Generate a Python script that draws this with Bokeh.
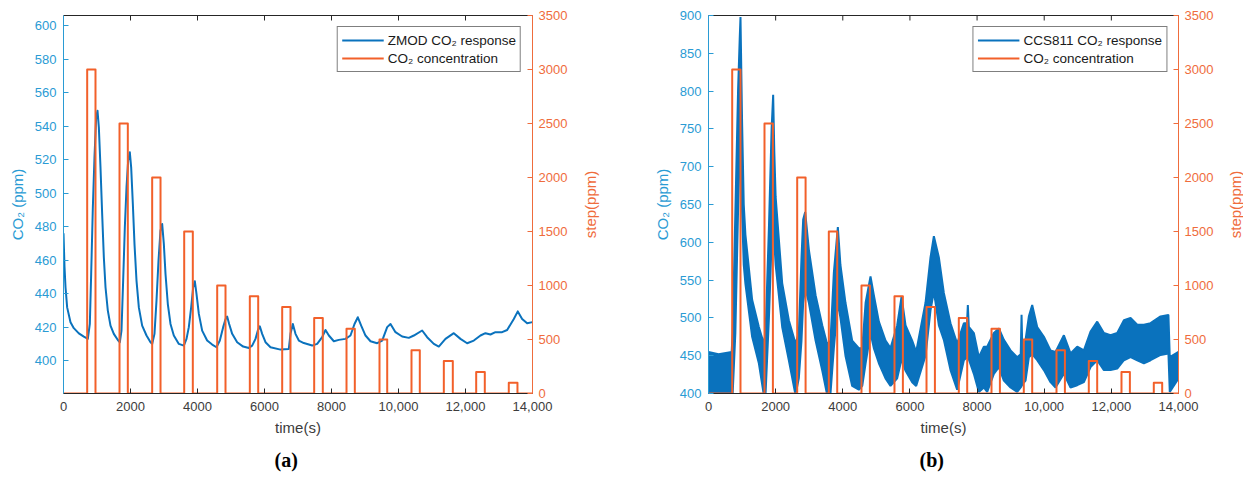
import math
from bokeh.plotting import figure
from bokeh.models import Range1d, LinearAxis, FixedTicker, Legend, LegendItem, Title, Label
from bokeh.layouts import row
from bokeh.embed import file_html
from bokeh.resources import INLINE

# ---------------- data ----------------
x_ticks = [0, 2000, 4000, 6000, 8000, 10000, 12000, 14000]
x_tick_labels = ["0", "2000", "4000", "6000", "8000", "10,000", "12,000", "14,000"]
left_ticks_a = [400, 420, 440, 460, 480, 500, 520, 540, 560, 580, 600]
left_ticks_b = [400, 450, 500, 550, 600, 650, 700, 750, 800, 850, 900]
right_ticks = [0, 500, 1000, 1500, 2000, 2500, 3000, 3500]

# CO2 step concentration (ppm)
step_levels = [3000, 2500, 2000, 1500, 1000, 900, 800, 700, 600, 500, 400, 300, 200, 100]
step_start_a = [707, 1672, 2647, 3603, 4588, 5562, 6528, 7483, 8448, 9433, 10388, 11353, 12319, 13292]
step_end_a = [955, 1920, 2896, 3860, 4836, 5812, 6776, 7740, 8696, 9663, 10636, 11621, 12576, 13551]
step_start_b = [706, 1668, 2642, 3584, 4557, 5540, 6494, 7456, 8430, 9392, 10366, 11328, 12302, 13264]
step_end_b = [953, 1918, 2892, 3834, 4807, 5790, 6744, 7706, 8680, 9642, 10616, 11578, 12552, 13514]

# ZMOD response (a)
t_a = [0, 30, 60, 109, 209, 308, 458, 607, 726, 786, 826, 876, 925, 975, 1015, 1055, 1104, 1154,
       1204, 1254, 1323, 1403, 1502, 1622, 1682, 1731, 1781, 1831, 1881, 1930, 1980, 2020, 2070,
       2119, 2179, 2249, 2348, 2478, 2597, 2647, 2716, 2776, 2836, 2895, 2945, 2995, 3045, 3114,
       3194, 3293, 3443, 3592, 3672, 3741, 3811, 3871, 3920, 3970, 4040, 4139, 4288, 4438, 4567,
       4667, 4766, 4836, 4885, 4945, 5035, 5184, 5363, 5532, 5632, 5731, 5801, 5860, 5930, 6030,
       6179, 6478, 6726, 6776, 6846, 6925, 7025, 7174, 7423, 7572, 7722, 7821, 7921, 8070, 8219,
       8418, 8567, 8687, 8786, 8886, 9015, 9164, 9363, 9513, 9662, 9761, 9910, 10109, 10308,
       10457, 10706, 10855, 11054, 11203, 11402, 11651, 11850, 12049, 12248, 12447, 12596, 12745,
       12894, 13093, 13243, 13442, 13561, 13691, 13840, 14000]
zmod_a = [476, 456, 443.8, 431.8, 422.9, 419.4, 416.3, 414.3, 413, 421.9, 451.7, 491.5, 521.4, 545.3,
          549.2, 539.3, 515.4, 487.6, 461.7, 443.8, 429.9, 420.9, 416, 412.3, 411, 417.9, 447.8,
          479.6, 503.5, 519.4, 524.4, 515.4, 493.5, 469.7, 447.8, 431.8, 420.9, 415, 411, 410, 416,
          435.8, 459.7, 477.6, 481.6, 469.7, 451.7, 433.8, 421.9, 415, 410, 409, 413, 420, 431.8,
          443.8, 447.4, 439.8, 427.9, 417.9, 412, 409.6, 408, 412, 420, 424.7, 426.3, 421.9, 416,
          411, 408.4, 407.6, 409, 413, 418, 420.5, 416, 411, 408, 406.6, 407, 416, 421.9, 416, 412,
          410.5, 409, 410, 414, 418.3, 415, 411.6, 412.4, 413, 415, 421.9, 425.9, 420.9, 415,
          411.6, 410.4, 412, 420, 421.9, 417, 414.4, 413.6, 415, 418, 414, 410, 408.4, 413, 416.4,
          413, 410.4, 412, 415, 416.4, 415.6, 417, 417, 418.3, 424.9, 429.4, 424.9, 422.3, 423]

# CCS811 response (b): noisy band, upper / lower envelopes
t_b = [0, 300, 690, 720, 800, 880, 930, 953, 1000, 1050, 1100, 1300, 1500, 1648, 1700, 1800,
       1880, 1926, 1960, 2000, 2195, 2393, 2592, 2690, 2770, 2820, 2880, 2990, 3190, 3390, 3535,
       3634, 3734, 3853, 3930, 4080, 4280, 4478, 4580, 4680, 4826, 4925, 5075, 5273, 5422, 5620,
       5750, 5870, 6067, 6186, 6464, 6613, 6713, 6862, 7010, 7209, 7407, 7606, 7700, 7725, 7755,
       7904, 8053, 8202, 8301, 8500, 8649, 8798, 8997, 9195, 9300, 9325, 9350, 9444, 9543, 9642,
       9791, 9990, 10188, 10337, 10586, 10784, 10983, 11182, 11380, 11579, 11778, 11976, 12175,
       12374, 12572, 12771, 12970, 13168, 13466, 13700, 13740, 14000]
ccs_hi = [455, 452, 455, 480, 640, 800, 870, 898, 760, 650, 610, 524, 488, 466, 480, 620,
          750, 795, 720, 660, 546, 497, 466, 480, 580, 630, 640, 590, 530, 490, 465,
          470, 560, 620, 570, 520, 470, 460, 460, 520, 555, 530, 495, 470, 460, 490,
          528, 490, 470, 455, 520, 580, 608, 580, 533, 493, 466, 493, 493, 517, 488,
          480, 448, 462, 462, 480, 486, 471, 457, 448, 452, 504, 455, 471, 502, 517,
          488, 475, 457, 455, 477, 453, 462, 457, 482, 495, 480, 477, 480,
          497, 500, 491, 491, 493, 502, 504, 448, 455]
ccs_lo = [395, 395, 395, 400, 480, 640, 720, 760, 640, 570, 545, 475, 440, 398, 400, 500,
          600, 640, 600, 570, 488, 444, 398, 420, 470, 520, 540, 520, 470, 430, 398,
          400, 460, 520, 500, 450, 410, 405, 410, 440, 480, 460, 440, 420, 410, 420,
          445, 430, 415, 410, 450, 510, 535, 490, 471, 431, 405, 444, 448, 450, 445,
          426, 402, 408, 402, 426, 435, 417, 408, 402, 408, 410, 412, 417, 448, 452,
          444, 431, 415, 408, 426, 408, 411, 415, 435, 444, 431, 431, 433,
          444, 448, 444, 440, 444, 451, 453, 402, 420]

# ---------------- style ----------------
BLUE_LINE = "#0a72bd"
BLUE_AX = "#2a9bd4"
ORANGE_LINE = "#f2602a"
ORANGE_AX = "#ef6c3c"
DARK = "#262626"
TXT = "#3c3c3c"
FONT = "Liberation Sans"
FRAME_H = 378


def step_xy(starts, ends, levels):
    xs, ys = [0], [0]
    for s, e, v in zip(starts, ends, levels):
        xs += [s, s, e, e]
        ys += [0, v, v, 0]
    xs.append(14000)
    ys.append(0)
    return xs, ys


def style_axis(ax, color, txt_color, label=None):
    ax.axis_line_color = color
    ax.axis_line_width = 1
    ax.major_tick_line_color = color
    ax.major_tick_in = 5
    ax.major_tick_out = 0
    ax.minor_tick_line_color = None
    ax.major_label_text_font = FONT
    ax.major_label_text_font_size = "13px"
    ax.major_label_text_color = txt_color
    if label is not None:
        ax.axis_label = label
        ax.axis_label_text_font = FONT
        ax.axis_label_text_font_size = "15px"
        ax.axis_label_text_font_style = "normal"
        ax.axis_label_text_color = txt_color


def make_fig(left_range, left_ticks, bl, br, fw, letter):
    p = figure(frame_width=fw, frame_height=FRAME_H, min_border_left=bl, min_border_right=br,
               min_border_top=15, min_border_bottom=92,
               x_range=Range1d(0, 14000), y_range=Range1d(*left_range),
               x_axis_location=None, y_axis_location=None,
               output_backend="svg", toolbar_location=None)
    p.extra_y_ranges = {"step": Range1d(0, 3500)}
    p.xgrid.grid_line_color = None
    p.ygrid.grid_line_color = None
    p.outline_line_color = None
    p.background_fill_color = "white"

    ax_b = LinearAxis(ticker=FixedTicker(ticks=x_ticks),
                      major_label_overrides={k: v for k, v in zip(x_ticks, x_tick_labels)})
    style_axis(ax_b, DARK, TXT, "time(s)")
    ax_b.major_label_standoff = 8
    ax_b.axis_label_standoff = 5
    p.add_layout(ax_b, "below")

    # top box edge (no labels) with inward ticks drawn as short rays
    ax_t = LinearAxis(ticker=FixedTicker(ticks=[]))
    style_axis(ax_t, DARK, TXT)
    p.add_layout(ax_t, "above")
    p.ray(x=x_ticks, y=[left_range[1]] * len(x_ticks), length=5, length_units="screen",
          angle=-math.pi / 2, line_color=DARK, line_width=1)

    ax_l = LinearAxis(ticker=FixedTicker(ticks=left_ticks))
    style_axis(ax_l, BLUE_AX, BLUE_AX, "CO\u2082 (ppm)")
    ax_l.major_label_standoff = 7
    ax_l.axis_label_standoff = 6
    p.add_layout(ax_l, "left")

    ax_r = LinearAxis(y_range_name="step", ticker=FixedTicker(ticks=right_ticks))
    style_axis(ax_r, ORANGE_AX, ORANGE_AX)
    ax_r.major_label_standoff = 6
    p.add_layout(ax_r, "right")

    p.add_layout(Title(text=letter, align="left", offset=211, text_font="Liberation Serif",
                       text_font_style="bold", text_font_size="20px", text_color="black",
                       standoff=16), "below")
    return p


def label_strip(width, x_center, text):
    # narrow strip holding the right-axis title, reading bottom-to-top
    s = figure(frame_width=width, frame_height=FRAME_H, min_border_left=0, min_border_right=0,
               min_border_top=15, min_border_bottom=92,
               x_range=Range1d(0, width), y_range=Range1d(0, FRAME_H),
               x_axis_location=None, y_axis_location=None,
               output_backend="svg", toolbar_location=None)
    s.xgrid.grid_line_color = None
    s.ygrid.grid_line_color = None
    s.outline_line_color = None
    s.add_layout(Label(x=x_center, y=FRAME_H / 2, text=text, angle=math.pi / 2,
                       text_align="center", text_baseline="middle", text_font=FONT,
                       text_font_size="15px", text_color=ORANGE_AX))
    return s


def finish_legend(p, items):
    leg = Legend(items=items, location="top_right", margin=11, padding=4, spacing=0,
                 glyph_width=42, glyph_height=18, label_height=18, label_standoff=4,
                 label_text_font=FONT, label_text_font_size="13.5px", label_text_color="#1a1a1a",
                 border_line_color="black", border_line_width=1, background_fill_alpha=1)
    p.add_layout(leg)


# ---------------- panel (a) ----------------
p1 = make_fig((380.4, 606), left_ticks_a, 63, 50, 469, "(a)")
r_blue_a = p1.line(t_a, zmod_a, line_color=BLUE_LINE, line_width=2, line_join="round")
sx, sy = step_xy(step_start_a, step_end_a, step_levels)
r_step_a = p1.line(sx, sy, y_range_name="step", line_color=ORANGE_LINE, line_width=2,
                   line_join="round")
finish_legend(p1, [LegendItem(label="ZMOD CO\u2082 response", renderers=[r_blue_a]),
                   LegendItem(label="CO\u2082 concentration", renderers=[r_step_a])])
lab1 = label_strip(38, 8, "step(ppm)")

# ---------------- panel (b) ----------------
p2 = make_fig((400, 900), left_ticks_b, 88, 38, 470, "(b)")
p2.varea(x=t_b, y1=ccs_lo, y2=ccs_hi, fill_color=BLUE_LINE, fill_alpha=1)
r_blue_b = p2.line(t_b, ccs_hi, line_color=BLUE_LINE, line_width=2)
p2.line(t_b, ccs_lo, line_color=BLUE_LINE, line_width=2)
sx, sy = step_xy(step_start_b, step_end_b, step_levels)
r_step_b = p2.line(sx, sy, y_range_name="step", line_color=ORANGE_LINE, line_width=2,
                   line_join="round")
finish_legend(p2, [LegendItem(label="CCS811 CO\u2082 response", renderers=[r_blue_b]),
                   LegendItem(label="CO\u2082 concentration", renderers=[r_step_b])])
lab2 = label_strip(27, 19, "step(ppm)")

layout = row(p1, lab1, p2, lab2)
open("out.html", "w").write(file_html(layout, INLINE))
